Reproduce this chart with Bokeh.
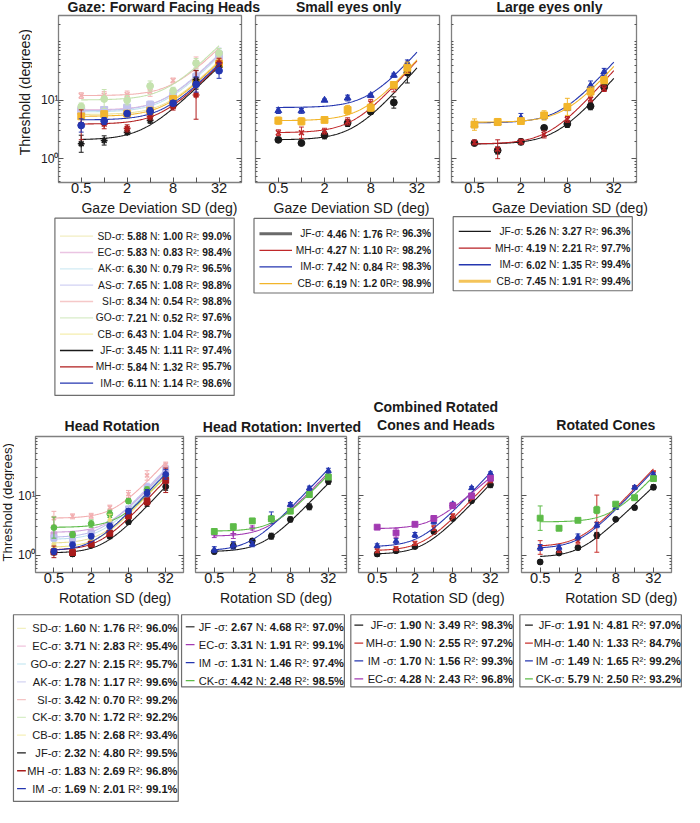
import numpy as np
from bokeh.plotting import figure
from bokeh.layouts import column, row
from bokeh.models import Range1d, FixedTicker, LogAxis, CustomJSTickFormatter
from bokeh.embed import file_html
from bokeh.resources import INLINE
from bokeh.core.properties import value

# ---------------------------------------------------------------- data
X_TICKS = [0.5, 1, 2, 4, 8, 16, 32]
X_TICK_TEXT = ["0.5", "", "2", "", "8", "", "32"]
Y_TICKS = [1, 10]
Y_TICK_TEXT = ["10\u2070", "10\u00b9"]

GAZE_X = [0.5, 1, 2, 4, 8, 16, 32]
EYES_X = [0.5, 1, 2, 4, 8, 16, 24]
ROT_X = [0.5, 1, 2, 4, 8, 16, 32]

# Gaze: Forward Facing Heads
GAZE_LABELS = ["SD-σ:", "EC-σ:", "AK-σ:", "AS-σ:", "SI-σ:", "GO-σ:", "CB-σ:", "JF-σ:", "MH-σ:", "IM-σ:"]
GAZE_SIGMA = ["5.88", "5.83", "6.30", "7.65", "8.34", "7.21", "6.43", "3.45", "5.84", "6.11"]
GAZE_N = ["1.00", "0.83", "0.79", "1.08", "0.54", "0.52", "1.04", "1.11", "1.32", "1.14"]
GAZE_R2 = ["99.0%", "98.4%", "96.5%", "98.8%", "98.8%", "97.6%", "98.7%", "97.4%", "95.7%", "98.6%"]
GAZE_SD = [5.5, 5.6, 5.8, 6.3, 10.0, 19.0, 40.0]
GAZE_EC = [6.6, 6.8, 7.2, 7.5, 11.0, 22.0, 50.0]
GAZE_AK = [6.3, 6.5, 6.8, 8.0, 11.5, 24.0, 58.0]
GAZE_AS = [6.5, 6.8, 7.5, 8.4, 12.0, 25.0, 60.0]
GAZE_SI = [12.0, 12.2, 12.5, 14.0, 21.8, 44.0, 55.0]
GAZE_GO = [7.8, 10.5, 10.0, 17.5, 14.5, 43.0, 64.0]
GAZE_CB = [5.3, 5.8, 5.9, 6.6, 10.5, 20.0, 42.0]
GAZE_JF = [1.80, 2.05, 2.82, 4.52, 8.16, 22.4, 36.6]
GAZE_MH = [3.8, 3.9, 3.3, 5.3, 7.8, 12.3, 43.6]
GAZE_IM = [3.7, 4.4, 5.9, 6.5, 8.9, 18.6, 32.0]
GAZE_SD_E = [1.1, 1.1, 1.15, 1.1, 1.1, 1.2, 1.2]
GAZE_EC_E = [1.15, 1.15, 1.1, 1.15, 1.1, 1.2, 1.25]
GAZE_AK_E = [1.15, 1.2, 1.1, 1.15, 1.15, 1.2, 1.3]
GAZE_AS_E = [1.1, 1.15, 1.25, 1.15, 1.1, 1.2, 1.3]
GAZE_SI_E = [1.12, 1.15, 1.15, 1.2, 1.1, 1.25, 1.2]
GAZE_GO_E = [1.15, 1.45, 1.2, 1.22, 1.15, 1.2, 1.2]
GAZE_CB_E = [1.1, 1.12, 1.1, 1.15, 1.1, 1.15, 1.2]
GAZE_JF_E = [1.4, 1.2, 1.1, 1.12, 1.1, 1.45, 1.2]
GAZE_MH_E = [1.8, 1.2, 1.15, 1.15, 1.15, 2.6, 1.2]
GAZE_IM_E = [1.3, 1.15, 1.1, 1.15, 1.1, 1.35, 1.35]
GAZE_FIT_A = [5.7, 6.8, 6.3, 6.6, 12.0, 10.1, 5.3, 2.1, 3.9, 4.6]
GAZE_FIT_C = [6.43, 6.15, 6.05, 5.85, 7.8, 6.3, 6.27, 3.2, 5.44, 5.96]
GAZE_FIT_S = [1.3, 1.3, 1.3, 1.3, 1.3, 1.3, 1.3, 1.25, 1.3, 1.3]
GAZE_COLORS = ["#ebe39c", "#e0b0d8", "#bfe2ee", "#c2c2ee", "#f2b2b2", "#c4e2ae", "#f2b52e", "#1a1a1a", "#b01c1c", "#2436b0"]
GAZE_LEG_COLORS = ["#f2eec2", "#eac4e2", "#d2ebf4", "#d2d2f3", "#f5c8c8", "#d8ecc8", "#f5eeae", "#1a1a1a", "#b01c1c", "#2436b0"]
GAZE_MARKERS = ["diamond", "square", "diamond", "square", "x", "circle", "square", "asterisk", "asterisk", "circle"]

# Small eyes only
SMALL_LABELS = ["JF-σ:", "MH-σ:", "IM-σ:", "CB-σ:"]
SMALL_SIGMA = ["4.46", "4.27", "7.42", "6.19"]
SMALL_N = ["1.76", "1.10", "0.84", "1.2 0"]
SMALL_R2 = ["96.3%", "98.2%", "98.3%", "98.9%"]
SMALL_JF = [2.10, 1.85, 2.51, 4.08, 6.4, 9.15, 29.6]
SMALL_MH = [2.78, 2.78, 2.96, 4.35, 9.0, 16.7, 36.0]
SMALL_IM = [6.64, 6.57, 10.0, 10.9, 12.1, 26.8, 42.5]
SMALL_CB = [4.47, 4.35, 4.6, 6.8, 7.45, 18.3, 36.0]
SMALL_JF_E = [1.1, 1.06, 1.15, 1.15, 1.1, 1.25, 1.5]
SMALL_MH_E = [1.12, 1.25, 1.12, 1.15, 1.15, 1.2, 1.2]
SMALL_IM_E = [1.12, 1.1, 1.05, 1.12, 1.07, 1.08, 1.15]
SMALL_CB_E = [1.15, 1.15, 1.1, 1.2, 1.15, 1.1, 1.25]
SMALL_FIT_A = [2.1, 2.78, 7.5, 4.47]
SMALL_FIT_C = [4.9, 4.9, 7.7, 6.62]
SMALL_FIT_S = [1.5, 1.5, 1.5, 1.5]
SMALL_COLORS = ["#1a1a1a", "#c0282a", "#2436b0", "#f2b52a"]
SMALL_LEG_COLORS = ["#6a6a6a", "#c0282a", "#2436b0", "#f2b52a"]
SMALL_LEG_WIDTHS = [3.0, 1.3, 1.3, 1.3]
SMALL_MARKERS = ["circle", "x", "triangle", "square"]

# Large eyes only
LARGE_LABELS = ["JF-σ:", "MH-σ:", "IM-σ:", "CB-σ:"]
LARGE_SIGMA = ["5.26", "4.19", "6.02", "7.45"]
LARGE_N = ["3.27", "2.21", "1.35", "1.91"]
LARGE_R2 = ["96.3%", "97.7%", "99.4%", "99.4%"]
LARGE_JF = [1.85, 1.38, 1.94, 3.37, 3.93, 7.9, 16.7]
LARGE_MH = [1.9, 1.45, 1.95, 2.6, 4.7, 10.5, 15.8]
LARGE_IM = [3.8, 4.09, 4.95, 5.3, 7.3, 17.8, 30.5]
LARGE_CB = [3.83, 4.24, 4.4, 5.5, 7.7, 14.1, 22.0]
LARGE_JF_E = [1.08, 1.15, 1.12, 1.08, 1.15, 1.15, 1.15]
LARGE_MH_E = [1.1, 1.45, 1.1, 1.15, 1.12, 1.12, 1.12]
LARGE_IM_E = [1.12, 1.1, 1.2, 1.12, 1.1, 1.2, 1.15]
LARGE_CB_E = [1.25, 1.15, 1.1, 1.2, 1.4, 1.2, 1.15]
LARGE_FIT_A = [1.78, 1.78, 4.1, 4.2]
LARGE_FIT_C = [5.8, 4.7, 6.62, 7.6]
LARGE_FIT_S = [1.5, 1.5, 1.5, 1.5]
LARGE_COLORS = ["#1a1a1a", "#b82024", "#2436b0", "#f2b52a"]
LARGE_LEG_COLORS = ["#1a1a1a", "#b82024", "#2436b0", "#f4c45a"]
LARGE_LEG_WIDTHS = [1.3, 1.3, 1.3, 3.0]
LARGE_MARKERS = ["circle", "x", "triangle", "square"]

# Head Rotation
HR_LABELS = ["SD-σ:", "EC-σ:", "GO-σ:", "AK-σ:", "SI-σ:", "CK-σ:", "CB-σ:", "JF-σ:", "MH -σ:", "IM -σ:"]
HR_SIGMA = ["1.60", "3.71", "2.27", "1.78", "3.42", "3.70", "1.85", "2.32", "1.83", "1.69"]
HR_N = ["1.76", "2.83", "2.15", "1.17", "0.70", "1.72", "2.68", "4.80", "2.69", "2.01"]
HR_R2 = ["96.0%", "95.4%", "95.7%", "99.6%", "99.2%", "92.2%", "93.4%", "99.5%", "96.8%", "99.1%"]
HR_SD = [1.6, 1.6, 1.9, 3.9, 6.0, 12.0, 22.0]
HR_EC = [2.2, 2.2, 2.4, 3.2, 5.5, 11.0, 24.0]
HR_GO = [1.9, 1.7, 2.1, 3.2, 5.8, 12.0, 26.0]
HR_AK = [1.97, 1.74, 2.3, 3.3, 6.0, 14.0, 28.0]
HR_SI = [4.2, 4.5, 4.6, 6.3, 10.6, 21.7, 33.0]
HR_CK = [2.92, 2.23, 3.4, 4.95, 8.1, 12.5, 21.0]
HR_CB = [1.4, 1.45, 1.8, 3.9, 5.5, 11.0, 21.0]
HR_JF = [1.13, 1.06, 1.48, 2.1, 3.65, 7.6, 14.1]
HR_MH = [1.15, 1.12, 1.55, 2.35, 4.6, 8.0, 18.0]
HR_IM = [1.17, 1.5, 2.09, 3.1, 5.5, 11.0, 22.6]
HR_SD_E = [1.1, 1.1, 1.1, 1.2, 1.1, 1.15, 1.15]
HR_EC_E = [1.12, 1.15, 1.1, 1.1, 1.1, 1.15, 1.2]
HR_GO_E = [1.1, 1.1, 1.1, 1.1, 1.12, 1.15, 1.2]
HR_AK_E = [1.12, 1.1, 1.1, 1.1, 1.1, 1.15, 1.2]
HR_SI_E = [1.3, 1.1, 1.1, 1.1, 1.15, 1.2, 1.1]
HR_CK_E = [1.5, 1.12, 1.15, 1.15, 1.1, 1.12, 1.15]
HR_CB_E = [1.1, 1.1, 1.1, 1.25, 1.1, 1.15, 1.15]
HR_JF_E = [1.1, 1.1, 1.08, 1.1, 1.1, 1.15, 1.15]
HR_MH_E = [1.25, 1.1, 1.1, 1.1, 1.1, 1.15, 1.6]
HR_IM_E = [1.12, 1.12, 1.1, 1.12, 1.1, 1.15, 1.2]
HR_FIT_A = [1.6, 2.43, 1.85, 2.0, 4.2, 2.95, 1.36, 1.1, 1.23, 1.2]
HR_FIT_C = [3.0, 3.7, 3.05, 2.92, 4.6, 5.5, 2.66, 3.15, 2.78, 2.16]
HR_FIT_S = [1.1, 1.1, 1.1, 1.1, 1.1, 1.1, 1.1, 1.1, 1.1, 1.1]
HR_COLORS = ["#e9e096", "#cf9fd8", "#bde0ee", "#bdbdee", "#f2aeb0", "#5dbb48", "#ece07c", "#1a1a1a", "#a81c1c", "#2436b0"]
HR_LEG_COLORS = ["#f2f0c0", "#f0c4dc", "#d2ecf4", "#d4d4f2", "#f4c4c4", "#d8eec8", "#f6f0b8", "#1a1a1a", "#a81c1c", "#2436b0"]
HR_MARKERS = ["diamond", "square", "circle", "square", "x", "circle", "diamond", "circle", "square", "circle"]

# Head Rotation: Inverted
INV_LABELS = ["JF -σ:", "EC-σ:", "IM -σ:", "CK-σ:"]
INV_SIGMA = ["2.67", "3.31", "1.31", "4.42"]
INV_N = ["4.68", "1.91", "1.46", "2.48"]
INV_R2 = ["97.0%", "99.1%", "97.4%", "98.5%"]
INV_JF = [1.16, 1.45, 1.75, 2.1, 4.0, 6.5, 17.3]
INV_EC = [2.23, 2.31, 2.88, 4.1, 6.6, 11.7, 21.8]
INV_IM = [1.25, 1.48, 1.54, 4.27, 7.1, 13.3, 26.0]
INV_CK = [2.52, 3.03, 3.78, 4.1, 5.5, 10.4, 20.4]
INV_JF_E = [1.08, 1.12, 1.1, 1.12, 1.1, 1.12, 1.12]
INV_EC_E = [1.12, 1.2, 1.08, 1.1, 1.1, 1.1, 1.12]
INV_IM_E = [1.12, 1.15, 1.1, 1.25, 1.08, 1.08, 1.1]
INV_CK_E = [1.1, 1.08, 1.1, 1.1, 1.1, 1.12, 1.1]
INV_FIT_A = [1.16, 2.1, 1.2, 2.55]
INV_FIT_C = [2.95, 3.5, 1.85, 4.5]
INV_FIT_S = [1.1, 1.1, 1.1, 1.1]
INV_COLORS = ["#1a1a1a", "#a23ab2", "#2436b0", "#5dbb48"]
INV_LEG_COLORS = ["#555555", "#a23ab2", "#2436b0", "#5dbb48"]
INV_MARKERS = ["circle", "cross", "triangle", "square"]

# Combined Rotated Cones and Heads
COMB_LABELS = ["JF-σ:", "MH-σ:", "IM -σ:", "EC-σ:"]
COMB_SIGMA = ["1.90", "1.90", "1.70", "4.28"]
COMB_N = ["3.49", "2.55", "1.56", "2.43"]
COMB_R2 = ["98.3%", "97.2%", "99.3%", "96.8%"]
COMB_JF = [1.06, 1.2, 1.41, 2.5, 4.15, 8.2, 15.2]
COMB_MH = [1.2, 1.3, 1.6, 2.86, 4.6, 9.5, 18.0]
COMB_IM = [1.45, 1.75, 2.2, 3.67, 7.2, 13.4, 23.5]
COMB_EC = [2.97, 2.38, 3.32, 4.15, 6.8, 9.9, 19.5]
COMB_JF_E = [1.1, 1.08, 1.06, 1.08, 1.08, 1.08, 1.12]
COMB_MH_E = [1.08, 1.08, 1.08, 1.1, 1.08, 1.1, 1.1]
COMB_IM_E = [1.08, 1.1, 1.1, 1.1, 1.07, 1.06, 1.06]
COMB_EC_E = [1.06, 1.2, 1.06, 1.12, 1.08, 1.08, 1.08]
COMB_FIT_A = [1.05, 1.2, 1.4, 2.8]
COMB_FIT_C = [2.76, 2.73, 2.42, 3.6]
COMB_FIT_S = [1.1, 1.1, 1.1, 0.9]
COMB_COLORS = ["#1a1a1a", "#c8302c", "#2436b0", "#a23ab2"]
COMB_MARKERS = ["circle", "x", "triangle", "square"]

# Rotated Cones
CONE_LABELS = ["JF-σ:", "MH-σ:", "IM -σ:", "CK-σ:"]
CONE_SIGMA = ["1.91", "1.40", "1.49", "5.79"]
CONE_N = ["4.81", "1.33", "1.65", "2.50"]
CONE_R2 = ["97.0%", "84.7%", "99.2%", "93.2%"]
CONE_JF = [0.78, 1.1, 1.35, 2.17, 4.02, 6.3, 13.8]
CONE_MH = [1.36, 1.23, 1.74, 3.4, 6.3, 13.6, 24.0]
CONE_IM = [1.36, 1.36, 2.04, 3.2, 6.3, 13.7, 22.3]
CONE_CK = [4.2, 2.85, 3.87, 5.75, 7.2, 9.2, 19.2]
CONE_JF_E = [1.08, 1.06, 1.06, 1.12, 1.05, 1.08, 1.1]
CONE_MH_E = [1.3, 1.1, 1.12, 3.0, 1.06, 1.06, 1.08]
CONE_IM_E = [1.12, 1.1, 1.12, 1.1, 1.06, 1.06, 1.08]
CONE_CK_E = [1.6, 1.08, 1.04, 1.15, 1.05, 1.04, 1.08]
CONE_FIT_A = [0.94, 1.41, 1.31, 3.64]
CONE_FIT_C = [2.13, 2.13, 2.12, 6.7]
CONE_FIT_S = [1.0, 1.1, 1.1, 1.1]
CONE_COLORS = ["#1a1a1a", "#c8302c", "#2436b0", "#5dbb48"]
CONE_MARKERS = ["circle", "x", "triangle", "square"]

# ---------------------------------------------------------------- helpers
S = 0.975
FONT = "Liberation Sans"
TXT = "#1a1a1a"
FRAME_COLOR = "#808080"
TICK_COLOR = "#555555"


def R(v):
    return int(round(S * v))


W_TOTAL = R(700)
XF = np.geomspace(0.5, 32, 160)


def fpx(v):
    return f"{v * S:.2f}px"


def list_fmt(ticks, texts):
    return CustomJSTickFormatter(args=dict(t=ticks, s=texts),
                                 code="const i = t.indexOf(tick); return i >= 0 ? s[i] : '';")


def blank_fmt():
    return CustomJSTickFormatter(code="return '';")


def style_axis(ax, ticker, fmt, fs, standoff):
    ax.ticker = ticker
    ax.formatter = fmt
    ax.axis_line_color = None
    ax.major_tick_in = 5
    ax.major_tick_out = 0
    ax.minor_tick_in = 2
    ax.minor_tick_out = 0
    ax.major_tick_line_color = TICK_COLOR
    ax.minor_tick_line_color = TICK_COLOR
    ax.major_label_text_font = FONT
    ax.major_label_text_font_size = fs
    ax.major_label_text_color = TXT
    ax.major_label_standoff = standoff


def make_panel(frame, col, rowy, xr, yr, yminor, ylabels, xfs):
    L, T, Rr, B = frame
    p = figure(width=R(col[1]) - R(col[0]), height=R(rowy[1]) - R(rowy[0]),
               x_axis_type="log", y_axis_type="log",
               x_range=Range1d(*xr), y_range=Range1d(*yr),
               toolbar_location=None, output_backend="svg",
               min_border_left=R(L) - R(col[0]), min_border_right=R(col[1]) - R(Rr),
               min_border_top=R(T) - R(rowy[0]), min_border_bottom=R(rowy[1]) - R(B))
    p.xgrid.visible = False
    p.ygrid.visible = False
    p.outline_line_color = FRAME_COLOR
    p.outline_line_width = 1.3
    p.background_fill_color = "white"
    p.border_fill_color = "white"
    style_axis(p.xaxis[0], FixedTicker(ticks=X_TICKS, minor_ticks=[]),
               list_fmt(X_TICKS, X_TICK_TEXT), fpx(xfs), 0)
    yfmt = list_fmt(Y_TICKS, Y_TICK_TEXT) if ylabels else blank_fmt()
    style_axis(p.yaxis[0], FixedTicker(ticks=Y_TICKS, minor_ticks=yminor), yfmt,
               fpx(12.5) if ylabels else "0px", 0)
    right = LogAxis()
    p.add_layout(right, "right")
    style_axis(right, FixedTicker(ticks=Y_TICKS, minor_ticks=yminor), blank_fmt(), "0px", 0)
    return p


def draw_series(p, xs, ys, ef, color, marker, size, a, c, s):
    yy = a * (1.0 + (XF / c) ** 2) ** (s / 2.0)
    p.line(XF, yy, line_color=color, line_width=1.1)
    lo = [y / f for y, f in zip(ys, ef)]
    hi = [y * f for y, f in zip(ys, ef)]
    p.segment(x0=xs, y0=lo, x1=xs, y1=hi, line_color=color, line_width=1)
    p.scatter(x=list(xs) + list(xs), y=lo + hi, marker="dash", size=5 * S,
              line_color=color, line_width=1)
    if marker in ("x", "asterisk", "cross"):
        p.scatter(xs, ys, marker=marker, size=size, line_color=color, line_width=1.6)
    else:
        p.scatter(xs, ys, marker=marker, size=size, fill_color=color, line_color=color)


def pix_fig(w, h, flip=True):
    yr = Range1d(h, 0) if flip else Range1d(0, h)
    p = figure(width=w, height=h, x_range=Range1d(0, w), y_range=yr,
               x_axis_type=None, y_axis_type=None, toolbar_location=None,
               output_backend="svg", min_border=0, outline_line_color=None)
    p.background_fill_color = "white"
    p.border_fill_color = "white"
    return p


BOLD_W = {ch: 0.556 for ch in "0123456789"}
BOLD_W.update({".": 0.278, "%": 0.889, " ": 0.278})
REG_W = {" ": 0.278, "N": 0.722, "R": 0.722, "\u00b2": 0.333, ":": 0.278}


def tw(s, f, table):
    return f * sum(table.get(ch, 0.556) for ch in s)


def draw_legend(p, yoff, box, rows, line_x, tright, fs, labels, sig, nn, r2, colors, widths):
    x0, y0, x1, y1 = box
    p.quad(left=[S * x0], right=[S * x1], top=[S * y0 - yoff], bottom=[S * y1 - yoff],
           fill_color=None, line_color="#6e6e6e", line_width=1.2)
    n = len(labels)
    ys = [S * r - yoff for r in rows]
    p.segment(x0=[S * line_x[0]] * n, x1=[S * line_x[1]] * n, y0=ys, y1=ys,
              line_color=colors, line_width=widths)
    f = fs * S
    gap = 0.278 * f
    bx, by, bt, nx, ny, nt = [], [], [], [], [], []
    for i in range(n):
        y = ys[i]
        x = S * tright
        bx.append(x); by.append(y); bt.append(r2[i])
        x -= tw(r2[i], f, BOLD_W) + gap
        nx.append(x); ny.append(y); nt.append("R\u00b2:")
        x -= tw("R\u00b2:", f, REG_W) + (0 if " " in nn[i] else gap)
        bx.append(x); by.append(y); bt.append(nn[i])
        x -= tw(nn[i], f, BOLD_W) + gap
        nx.append(x); ny.append(y); nt.append("N:")
        x -= tw("N:", f, REG_W) + gap
        bx.append(x); by.append(y); bt.append(sig[i])
        x -= tw(sig[i], f, BOLD_W) + gap
        nx.append(x); ny.append(y); nt.append(labels[i])
    common = dict(text_font=value(FONT), text_font_size=value(f"{f:.2f}px"),
                  text_align="right", text_baseline="middle", text_color=TXT)
    p.text(bx, by, text=bt, text_font_style="bold", **common)
    p.text(nx, ny, text=nt, **common)


def add_texts(p, yoff, items, fs, bold):
    p.text([S * it[1] for it in items], [S * it[2] - yoff for it in items],
           text=[it[0] for it in items], text_font=value(FONT),
           text_font_size=value(f"{fs * S:.2f}px"), text_font_style="bold" if bold else "normal",
           text_align="center", text_baseline="middle", text_color=TXT)


def ylabel_fig(x_right, rowy, X, Y, text, fs):
    w = R(x_right)
    h = R(rowy[1]) - R(rowy[0])
    p = pix_fig(w, h, flip=False)
    p.text([S * X], [h - (S * Y - R(rowy[0]))], text=[text], text_font=value(FONT),
           text_font_size=value(fpx(fs)), text_align="center", text_baseline="middle",
           text_color=TXT, angle=np.pi / 2)
    return p


# ---------------------------------------------------------------- panels
TOP_ROW = (14, 204)
BOT_ROW = (446, 604)
TOP_COLS = [(33, 254.5), (254.5, 456.5), (456.5, 700)]
BOT_COLS = [(14.5, 193.5), (193.5, 361), (361, 527.5), (527.5, 700)]
TOP_FRAMES = [(59, 15, 247, 186.5), (262, 15, 450, 186.5), (463, 15, 652, 186.5)]
BOT_FRAMES = [(33.5, 446.7, 187.5, 587), (200, 446.7, 355, 587), (367, 446.7, 521, 587),
              (534, 446.7, 688, 587)]
TOP_XR = (0.252, 63.0)
TOP_YR = (0.391, 281.8)
BOT_XR = (0.252, 62.0)
BOT_YR = (0.52, 97.0)
TOP_MINOR = [0.4, 0.5, 0.6, 0.7, 0.8, 0.9, 2, 3, 4, 5, 6, 7, 8, 9,
             20, 30, 40, 50, 60, 70, 80, 90, 100, 200]
BOT_MINOR = [0.6, 0.7, 0.8, 0.9, 2, 3, 4, 5, 6, 7, 8, 9, 20, 30, 40, 50, 60, 70, 80, 90]

panels_top = [ylabel_fig(TOP_COLS[0][0], TOP_ROW, 25, 101.5, "Threshold (degrees)", 14.4)]
panel_specs_top = [
    (GAZE_X, [GAZE_SD, GAZE_EC, GAZE_AK, GAZE_AS, GAZE_SI, GAZE_GO, GAZE_CB, GAZE_JF, GAZE_MH, GAZE_IM],
     [GAZE_SD_E, GAZE_EC_E, GAZE_AK_E, GAZE_AS_E, GAZE_SI_E, GAZE_GO_E, GAZE_CB_E, GAZE_JF_E, GAZE_MH_E, GAZE_IM_E],
     GAZE_COLORS, GAZE_MARKERS, GAZE_FIT_A, GAZE_FIT_C, GAZE_FIT_S),
    (EYES_X, [SMALL_JF, SMALL_MH, SMALL_IM, SMALL_CB], [SMALL_JF_E, SMALL_MH_E, SMALL_IM_E, SMALL_CB_E],
     SMALL_COLORS, SMALL_MARKERS, SMALL_FIT_A, SMALL_FIT_C, SMALL_FIT_S),
    (EYES_X, [LARGE_JF, LARGE_MH, LARGE_IM, LARGE_CB], [LARGE_JF_E, LARGE_MH_E, LARGE_IM_E, LARGE_CB_E],
     LARGE_COLORS, LARGE_MARKERS, LARGE_FIT_A, LARGE_FIT_C, LARGE_FIT_S),
]
for k, (xs, ys_list, e_list, cols, mks, fa, fc, fsl) in enumerate(panel_specs_top):
    p = make_panel(TOP_FRAMES[k], TOP_COLS[k], TOP_ROW, TOP_XR, TOP_YR, TOP_MINOR, k == 0, 15)
    for i in range(len(ys_list)):
        draw_series(p, xs, ys_list[i], e_list[i], cols[i], mks[i], 7 * S, fa[i], fc[i], fsl[i])
    panels_top.append(p)

panels_bot = [ylabel_fig(BOT_COLS[0][0], BOT_ROW, 7.5, 522.5, "Threshold (degrees)", 13.5)]
panel_specs_bot = [
    ([HR_SD, HR_EC, HR_GO, HR_AK, HR_SI, HR_CK, HR_CB, HR_JF, HR_MH, HR_IM],
     [HR_SD_E, HR_EC_E, HR_GO_E, HR_AK_E, HR_SI_E, HR_CK_E, HR_CB_E, HR_JF_E, HR_MH_E, HR_IM_E],
     HR_COLORS, HR_MARKERS, HR_FIT_A, HR_FIT_C, HR_FIT_S),
    ([INV_JF, INV_EC, INV_IM, INV_CK], [INV_JF_E, INV_EC_E, INV_IM_E, INV_CK_E],
     INV_COLORS, INV_MARKERS, INV_FIT_A, INV_FIT_C, INV_FIT_S),
    ([COMB_JF, COMB_MH, COMB_IM, COMB_EC], [COMB_JF_E, COMB_MH_E, COMB_IM_E, COMB_EC_E],
     COMB_COLORS, COMB_MARKERS, COMB_FIT_A, COMB_FIT_C, COMB_FIT_S),
    ([CONE_JF, CONE_MH, CONE_IM, CONE_CK], [CONE_JF_E, CONE_MH_E, CONE_IM_E, CONE_CK_E],
     CONE_COLORS, CONE_MARKERS, CONE_FIT_A, CONE_FIT_C, CONE_FIT_S),
]
for k, (ys_list, e_list, cols, mks, fa, fc, fsl) in enumerate(panel_specs_bot):
    p = make_panel(BOT_FRAMES[k], BOT_COLS[k], BOT_ROW, BOT_XR, BOT_YR, BOT_MINOR, k == 0, 15)
    for i in range(len(ys_list)):
        draw_series(p, ROT_X, ys_list[i], e_list[i], cols[i], mks[i], 6 * S, fa[i], fc[i], fsl[i])
    panels_bot.append(p)

# ---------------------------------------------------------------- strips and legends
top_strip = pix_fig(W_TOTAL, R(TOP_ROW[0]))
add_texts(top_strip, 0, [("Gaze: Forward Facing Heads", 167.5, 7), ("Small eyes only", 357, 7),
                         ("Large eyes only", 563, 7)], 14.4, True)

MID_OFF = R(TOP_ROW[1])
mid = pix_fig(W_TOTAL, R(BOT_ROW[0]) - MID_OFF)
add_texts(mid, MID_OFF, [("Gaze Deviation SD (deg)", 163, 212.5), ("Gaze Deviation SD (deg)", 360, 212.5),
                         ("Gaze Deviation SD (deg)", 584, 212.5)], 14.4, False)
draw_legend(mid, MID_OFF, (55.8, 223.3, 239.7, 405), [241.7 + 16.75 * i for i in range(10)],
            (61, 95), 236.7, 10.5, GAZE_LABELS, GAZE_SIGMA, GAZE_N, GAZE_R2, GAZE_LEG_COLORS, [1.3] * 10)
draw_legend(mid, MID_OFF, (260, 223.5, 444, 300), [239.3, 256.3, 273.3, 290.3],
            (265.6, 299), 441.7, 10.5, SMALL_LABELS, SMALL_SIGMA, SMALL_N, SMALL_R2,
            SMALL_LEG_COLORS, SMALL_LEG_WIDTHS)
draw_legend(mid, MID_OFF, (464.3, 221.7, 648, 297.7), [236.7, 254, 271, 288],
            (470, 503), 646, 10.5, LARGE_LABELS, LARGE_SIGMA, LARGE_N, LARGE_R2,
            LARGE_LEG_COLORS, LARGE_LEG_WIDTHS)
add_texts(mid, MID_OFF, [("Head Rotation", 114.5, 436), ("Head Rotation: Inverted", 288.6, 437),
                         ("Combined Rotated", 446.4, 417.3), ("Cones and Heads", 446.6, 435),
                         ("Rotated Cones", 620.8, 435.7)], 14.4, True)

BOT_OFF = R(BOT_ROW[1])
bot = pix_fig(W_TOTAL, R(823) - BOT_OFF)
add_texts(bot, BOT_OFF, [("Rotation SD (deg)", 117.5, 613), ("Rotation SD (deg)", 282.7, 613),
                         ("Rotation SD (deg)", 459.4, 613), ("Rotation SD (deg)", 636.7, 613)],
          14.4, False)
draw_legend(bot, BOT_OFF, (13.3, 630, 182.3, 821.5), [644 + 18.25 * i for i in range(10)],
            (17, 26), 181.5, 11.4, HR_LABELS, HR_SIGMA, HR_N, HR_R2, HR_LEG_COLORS, [1.3] * 10)
draw_legend(bot, BOT_OFF, (185.7, 630, 352.7, 704), [642.3, 660.7, 679, 697.5],
            (190, 199), 352.3, 11.4, INV_LABELS, INV_SIGMA, INV_N, INV_R2, INV_LEG_COLORS, [1.3] * 4)
draw_legend(bot, BOT_OFF, (359.3, 630, 526, 704), [640.7, 659, 677.3, 695.7],
            (363, 372), 525.5, 11.4, COMB_LABELS, COMB_SIGMA, COMB_N, COMB_R2, COMB_COLORS, [1.3] * 4)
draw_legend(bot, BOT_OFF, (532.7, 630, 698.3, 704), [640.7, 659, 677.3, 695.7],
            (538, 546), 697.8, 11.4, CONE_LABELS, CONE_SIGMA, CONE_N, CONE_R2, CONE_COLORS, [1.3] * 4)

layout = column(top_strip, row(*panels_top), mid, row(*panels_bot), bot)

with open("out.html", "w", encoding="utf-8") as fh:
    fh.write(file_html(layout, INLINE, "Thresholds"))
